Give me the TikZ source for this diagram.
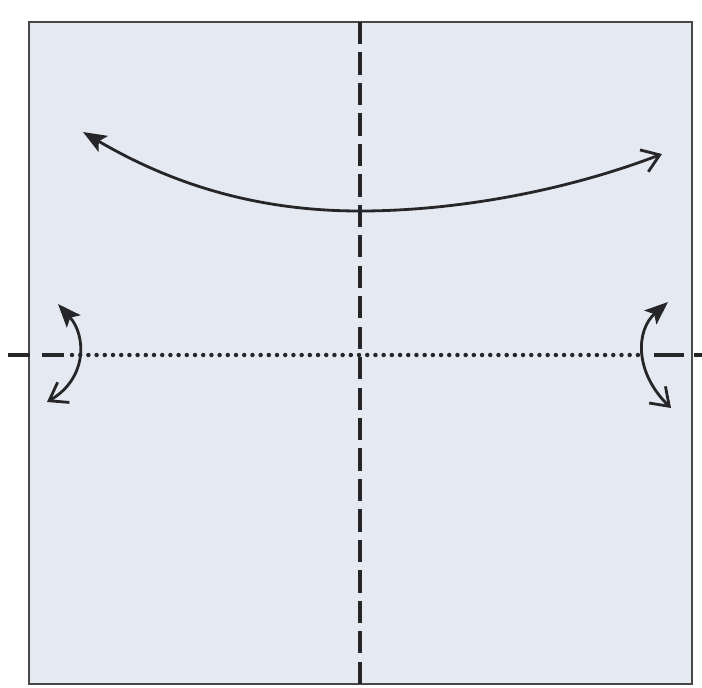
\documentclass[tikz,border=0pt]{standalone}
\usetikzlibrary{arrows.meta}
\definecolor{paperblue}{RGB}{229,233,241}
\definecolor{inkgray}{RGB}{38,38,40}

\begin{document}
\begin{tikzpicture}[x=0.03cm,y=-0.03cm,
 valley/.style={draw=inkgray,line width=2.8pt,dash pattern=on 19pt off 7pt},
 mountain/.style={draw=inkgray,line width=3.8pt,line cap=round,dash pattern=on 0pt off 7pt},
 enddash/.style={draw=inkgray,line width=2.6pt},
 turn/.style={draw=inkgray,line width=2.4pt,{Stealth[length=7mm,width=5.5mm,inset=1.5mm]}-{Straight Barb[length=5mm,width=7mm]}}]
\useasboundingbox (0,0) rectangle (702,687);
\fill[white] (0,0) rectangle (702,687);
% paper square
\draw[fill=paperblue,draw=inkgray!85,line width=1.6pt] (29,22) rectangle (692,684);
% fold lines
\draw[valley] (360,22) -- (360,684);
\draw[mountain] (72,355) -- (646,355);
\draw[enddash] (8,355) -- (30,355);
\draw[enddash] (42,355) -- (64,355);
\draw[enddash] (654,355) -- (684,355);
\draw[enddash] (694,355) -- (702,355);
% turn over arrows
\coordinate (topl) at (83,132);
\coordinate (topm) at (360,211);
\coordinate (topr) at (662,154);
\draw[turn] (topl) .. controls (190,195) and (280,211) .. (topm) .. controls (450,211) and (560,193) .. (topr);
\coordinate (leftup) at (58,304);
\coordinate (leftdown) at (47,402);
\draw[turn] (leftup) .. controls (86,335) and (88,378) .. (leftdown);
\coordinate (rightup) at (668,302);
\coordinate (rightdown) at (671,408);
\draw[turn] (rightup) .. controls (636,330) and (634,372) .. (rightdown);
\end{tikzpicture}
\end{document}
